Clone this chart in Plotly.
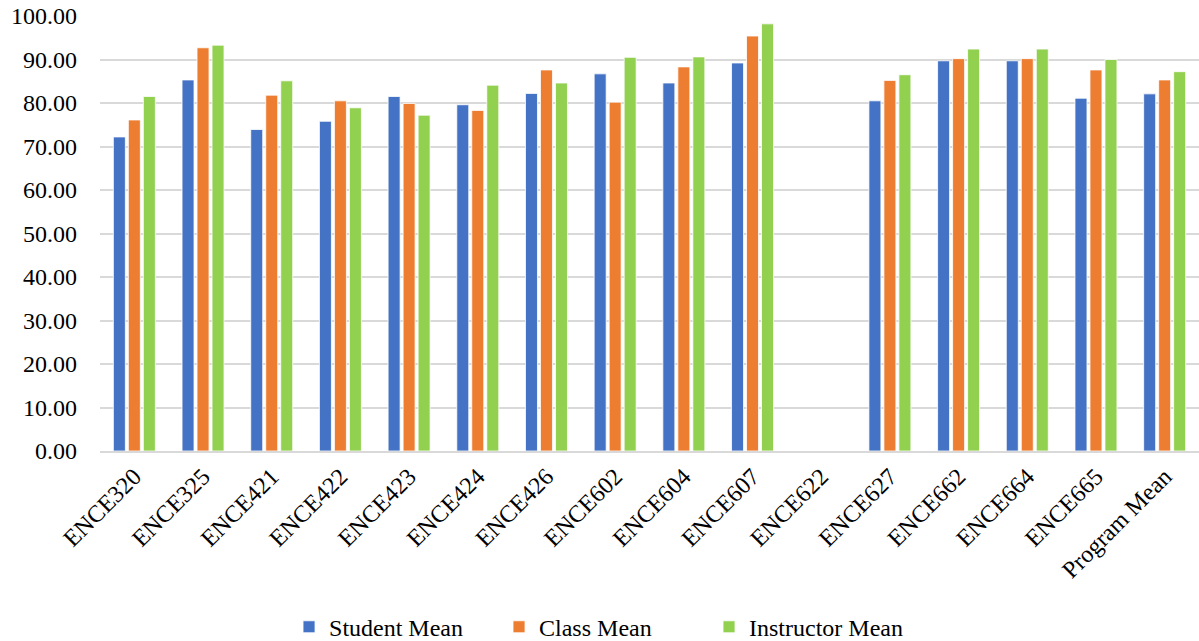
import plotly.graph_objects as go

COURSES = ["ENCE320", "ENCE325", "ENCE421", "ENCE422", "ENCE423", "ENCE424",
           "ENCE426", "ENCE602", "ENCE604", "ENCE607", "ENCE622", "ENCE627",
           "ENCE662", "ENCE664", "ENCE665", "Program Mean"]

student_mean = [72.2, 85.3, 73.9, 75.8, 81.5, 79.6, 82.2, 86.7, 84.6, 89.2,
                None, 80.5, 89.7, 89.7, 81.1, 82.1]
class_mean = [76.1, 92.7, 81.8, 80.5, 79.9, 78.3, 87.6, 80.2, 88.3, 95.4,
              None, 85.2, 90.2, 90.2, 87.6, 85.3]
instructor_mean = [81.5, 93.3, 85.1, 78.9, 77.2, 84.1, 84.6, 90.5, 90.6, 98.2,
                   None, 86.5, 92.4, 92.4, 90.0, 87.2]

Y_TICKS = [0, 10, 20, 30, 40, 50, 60, 70, 80, 90, 100]

SERIES = [
    ("Student Mean", student_mean, "#4472C4"),
    ("Class Mean", class_mean, "#ED7D31"),
    ("Instructor Mean", instructor_mean, "#92D050"),
]

FONT = "Liberation Serif"

fig = go.Figure()
for name, vals, color in SERIES:
    fig.add_trace(go.Bar(
        name=name,
        x=COURSES,
        y=vals,
        marker=dict(color=color, line=dict(color="white", width=0.8)),
    ))

fig.update_layout(
    width=1199,
    height=641,
    barmode="group",
    bargap=0.345,
    bargroupgap=0.2,
    paper_bgcolor="white",
    plot_bgcolor="white",
    margin=dict(l=100, r=0, t=16, b=190, autoexpand=False),
    font=dict(family=FONT, size=24, color="black"),
    xaxis=dict(
        tickangle=-45,
        showline=True,
        linecolor="#d9d9d9",
        linewidth=2,
        ticks="",
        tickfont=dict(family=FONT, size=24),
    ),
    yaxis=dict(
        range=[0, 100],
        tickvals=Y_TICKS,
        tickformat=".2f",
        showgrid=True,
        gridcolor="#d9d9d9",
        gridwidth=1.5,
        zeroline=False,
        ticks="",
        ticklabelstandoff=22,
        tickfont=dict(family=FONT, size=24),
    ),
    legend=dict(
        orientation="h",
        x=0.172,
        xanchor="left",
        y=-0.405,
        yanchor="middle",
        font=dict(family=FONT, size=24),
        entrywidth=165,
    ),
)

# drop the browser's default body margin so the figure sits at the page origin
fig.write_html(
    "out.html",
    config={"displayModeBar": False},
    post_script="document.body.style.margin = '0';",
)
